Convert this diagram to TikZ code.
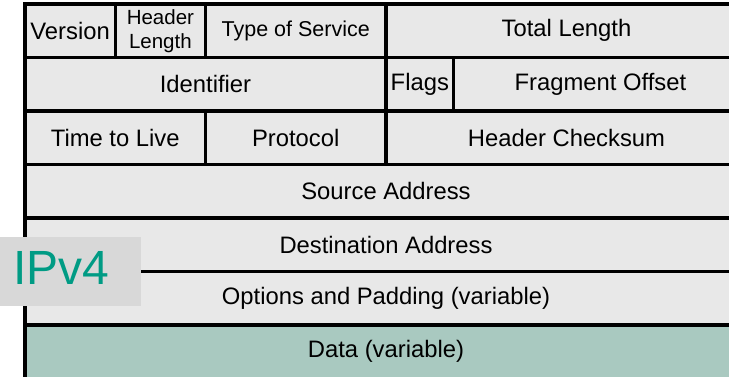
\documentclass[tikz,border=0pt]{standalone}
\usepackage{fontspec}
\setmainfont{Liberation Sans}
\definecolor{cellgray}{HTML}{E8E8E8}
\definecolor{datateal}{HTML}{A9C9C0}
\definecolor{tagbox}{HTML}{D8D8D8}
\definecolor{tagtext}{HTML}{009B84}
\definecolor{rule}{HTML}{000000}
\begin{document}
\begin{tikzpicture}[x=1pt,y=-1pt,
  field/.style={draw=rule, line width=3.2pt, fill=cellgray, rectangle,
    inner sep=0pt, outer sep=0pt, minimum height=53.5pt, anchor=north west,
    font=\fontsize{23.8}{27}\selectfont, text=black},
  datafield/.style={field, fill=datateal},
  smallfield/.style={field, align=center, font=\fontsize{20.5}{24}\selectfont},
  tagbg/.style={rectangle, fill=tagbox, inner sep=0pt, outer sep=0pt,
    minimum width=141pt, minimum height=69pt, anchor=north west},
  tagtxt/.style={inner sep=0pt, anchor=base west, text=tagtext,
    font=\fontsize{48}{52}\selectfont}]
\useasboundingbox (0,0) rectangle (729,377);
\clip (0,0) rectangle (729,377);
% one bit of the 32-bit header word is 22.5625pt wide, starting at x=25
% row 1
\node[field, minimum width=90.25pt]  (ver) at (25,4)     {Version};
\node[smallfield, minimum width=90.25pt] (hl) at (115.25,4) {Header\\Length};
\node[field, minimum width=180.5pt, font=\fontsize{21.5}{25}\selectfont]
                                     (tos) at (205.5,4)  {Type of Service};
\node[field, minimum width=361pt]    (tl)  at (386,4)    {Total Length};
% row 2
\node[field, minimum width=361pt]    (id)  at (25,57.5)  {Identifier};
\node[field, minimum width=67.69pt]  (fl)  at (386,57.5) {Flags};
\node[field, minimum width=293.31pt] (fo)  at (453.69,57.5) {Fragment Offset};
% row 3
\node[field, minimum width=180.5pt]  (ttl) at (25,111)   {Time to Live};
\node[field, minimum width=180.5pt]  (pro) at (205.5,111) {Protocol};
\node[field, minimum width=361pt]    (hc)  at (386,111)  {Header Checksum};
% full-width rows
\node[field, minimum width=722pt]    (src) at (25,164.5) {Source Address};
\node[field, minimum width=722pt]    (dst) at (25,218)   {Destination Address};
\node[field, minimum width=722pt]    (opt) at (25,271.5) {Options and Padding (variable)};
\node[datafield, minimum width=722pt] (dat) at (25,325)  {Data (variable)};
% version tag
\node[tagbg] (tag) at (0,237) {};
\node[tagtxt] (tagl) at (13,284) {IPv4};
\end{tikzpicture}
\end{document}
